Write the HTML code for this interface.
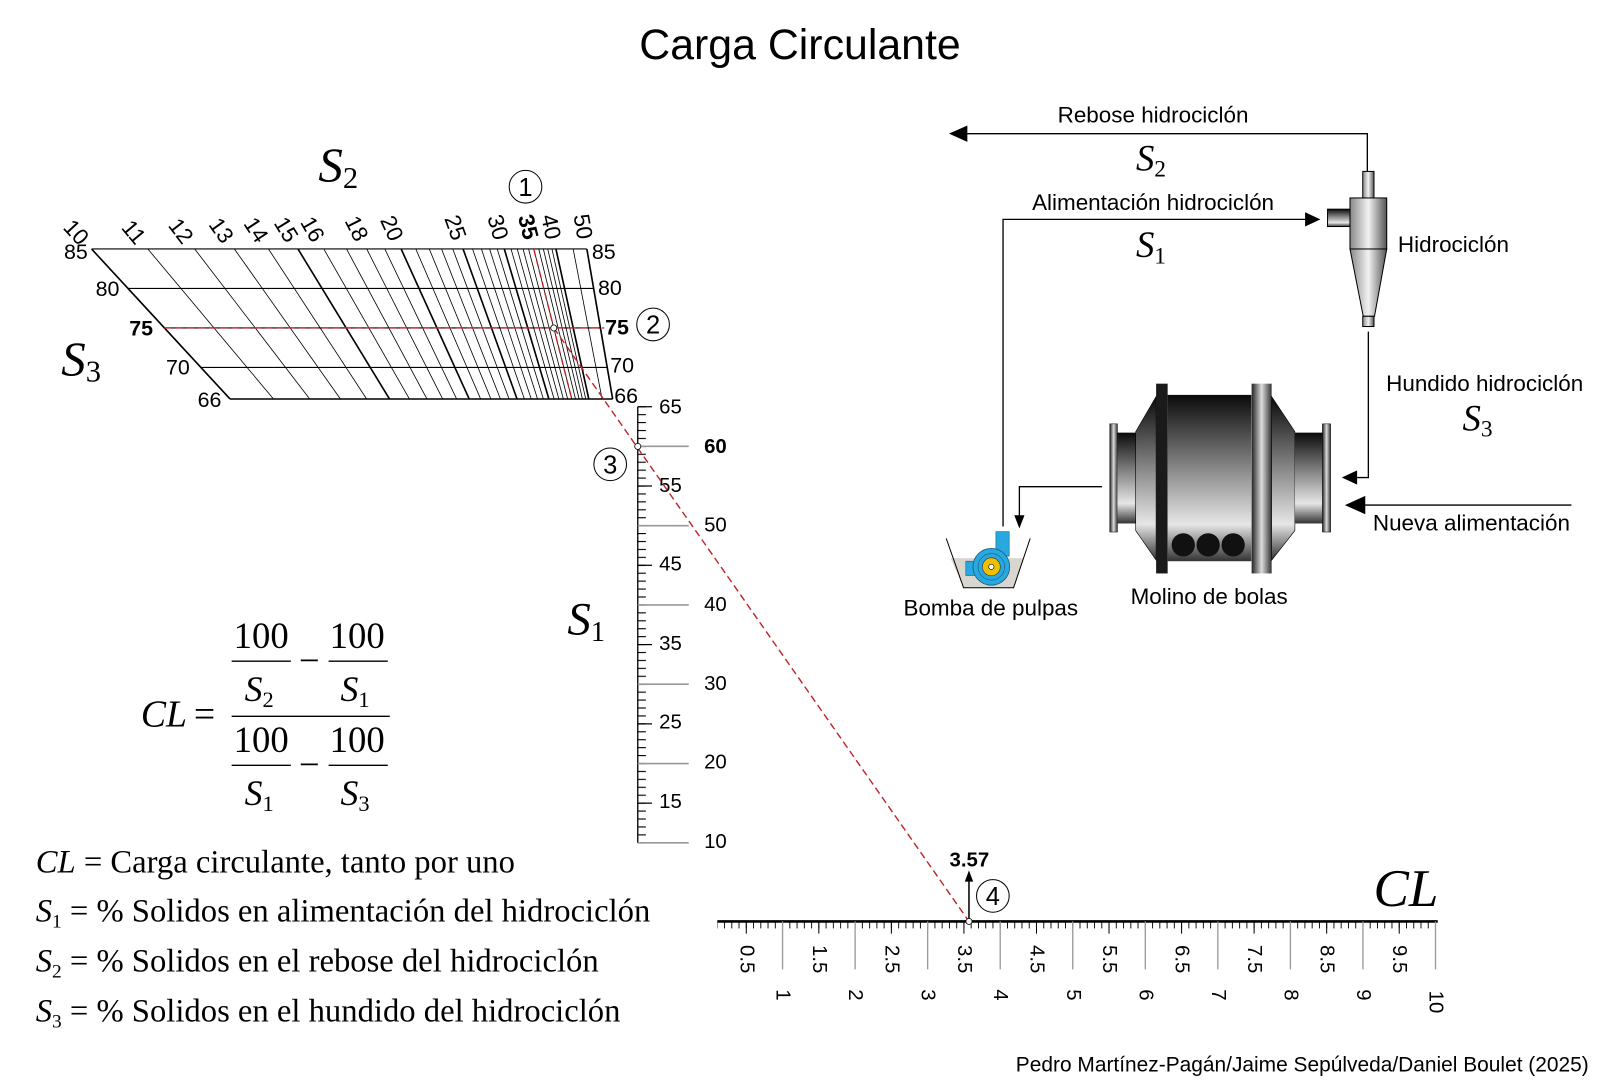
<!DOCTYPE html>
<html><head><meta charset="utf-8">
<style>
html,body{margin:0;padding:0;background:#fff;}
svg{display:block;}
.sans{font-family:"Liberation Sans",sans-serif;}
.ser{font-family:"Liberation Serif",serif;}
.it{font-family:"Liberation Serif",serif;font-style:italic;}
</style></head>
<body>
<svg width="1600" height="1081" viewBox="0 0 1568 1059.4" xmlns="http://www.w3.org/2000/svg">
<defs>
<linearGradient id="gv" x1="0" y1="0" x2="0" y2="1">
<stop offset="0" stop-color="#0a0a0a"/><stop offset="0.45" stop-color="#8a8a8a"/><stop offset="0.78" stop-color="#e6e6e6"/><stop offset="1" stop-color="#333"/></linearGradient>
<linearGradient id="gh" x1="0" y1="0" x2="1" y2="0">
<stop offset="0" stop-color="#222"/><stop offset="0.5" stop-color="#ddd"/><stop offset="1" stop-color="#333"/></linearGradient>
<linearGradient id="gh2" x1="0" y1="0" x2="1" y2="0">
<stop offset="0" stop-color="#888"/><stop offset="0.5" stop-color="#f2f2f2"/><stop offset="1" stop-color="#555"/></linearGradient>
<pattern id="p1" x="625" y="398.05" width="10" height="7.77" patternUnits="userSpaceOnUse"><rect x="0" y="0" width="8" height="1.1" fill="#000"/></pattern>
<pattern id="p2" x="695.35" y="903" width="7.11" height="10" patternUnits="userSpaceOnUse"><rect x="0" y="0" width="0.9" height="7" fill="#000"/></pattern>
</defs>

<text x="784" y="58" class="sans" font-size="42" text-anchor="middle">Carga Circulante</text>

<!-- grid -->
<g stroke="#000" fill="none" stroke-width="0.8">
<line x1="144.9" y1="244" x2="268.0" y2="391"/>
<line x1="190.8" y1="244" x2="303.5" y2="391"/>
<line x1="229.7" y1="244" x2="333.6" y2="391"/>
<line x1="263.1" y1="244" x2="359.3" y2="391"/>
<line x1="317.3" y1="244" x2="401.2" y2="391"/>
<line x1="339.6" y1="244" x2="418.4" y2="391"/>
<line x1="359.4" y1="244" x2="433.8" y2="391"/>
<line x1="377.1" y1="244" x2="447.5" y2="391"/>
<line x1="407.5" y1="244" x2="471.0" y2="391"/>
<line x1="420.7" y1="244" x2="481.1" y2="391"/>
<line x1="432.7" y1="244" x2="490.4" y2="391"/>
<line x1="443.7" y1="244" x2="498.9" y2="391"/>
<line x1="463.1" y1="244" x2="513.9" y2="391"/>
<line x1="471.8" y1="244" x2="520.6" y2="391"/>
<line x1="479.8" y1="244" x2="526.8" y2="391"/>
<line x1="487.3" y1="244" x2="532.5" y2="391"/>
<line x1="500.8" y1="244" x2="543.0" y2="391"/>
<line x1="506.9" y1="244" x2="547.7" y2="391"/>
<line x1="512.6" y1="244" x2="552.1" y2="391"/>
<line x1="518.0" y1="244" x2="556.3" y2="391"/>
<line x1="523.1" y1="244" x2="560.3" y2="391"/>
<line x1="528.0" y1="244" x2="564.0" y2="391"/>
<line x1="532.5" y1="244" x2="567.5" y2="391"/>
<line x1="536.8" y1="244" x2="570.8" y2="391"/>
<line x1="540.9" y1="244" x2="574.0" y2="391"/>
<line x1="561.7" y1="244" x2="590.0" y2="391"/>
</g>
<g stroke="#000" fill="none" stroke-width="1.6">
<line x1="89.7" y1="244" x2="225.4" y2="391"/>
<line x1="292.0" y1="244" x2="381.7" y2="391"/>
<line x1="393.1" y1="244" x2="459.8" y2="391"/>
<line x1="453.8" y1="244" x2="506.7" y2="391"/>
<line x1="494.2" y1="244" x2="537.9" y2="391"/>
<line x1="544.8" y1="244" x2="577.0" y2="391"/>
<line x1="575.1" y1="244" x2="600.4" y2="391"/>
</g>
<g stroke="#000" stroke-width="1.1">
<line x1="89.7" y1="244" x2="575.1" y2="244"/>
<line x1="125.4" y1="282.7" x2="581.8" y2="282.7"/>
<line x1="161.1" y1="321.4" x2="588.4" y2="321.4"/>
<line x1="196.8" y1="360.1" x2="595.1" y2="360.1"/>
<line x1="225.4" y1="391" x2="600.4" y2="391" stroke-width="1.5"/>
</g>
<g class="sans" font-size="22" text-anchor="end" dominant-baseline="central">
<text transform="translate(82.9,236.6) rotate(47.3)">10</text>
<text transform="translate(138.4,236.3) rotate(50.1)">11</text>
<text transform="translate(184.7,236.1) rotate(52.5)">12</text>
<text transform="translate(223.9,235.8) rotate(54.7)">13</text>
<text transform="translate(257.6,235.6) rotate(56.8)">14</text>
<text transform="translate(286.8,235.5) rotate(58.6)">15</text>
<text transform="translate(312.3,235.3) rotate(60.3)">16</text>
<text transform="translate(354.9,234.9) rotate(63.2)">18</text>
<text transform="translate(389.0,234.9) rotate(65.6)">20</text>
<text transform="translate(450.4,234.6) rotate(70.2)">25</text>
<text transform="translate(491.4,234.4) rotate(73.4)">30</text>
<text transform="translate(520.6,234.3) rotate(75.8)" font-weight="bold">35</text>
<text transform="translate(542.6,234.2) rotate(77.6)">40</text>
<text transform="translate(573.4,234.1) rotate(80.2)">50</text>
</g>
<g class="sans" font-size="21">
<text x="86" y="254" text-anchor="end">85</text>
<text x="117" y="290" text-anchor="end">80</text>
<text x="150" y="329" text-anchor="end" font-weight="bold">75</text>
<text x="186" y="367" text-anchor="end">70</text>
<text x="217" y="399" text-anchor="end">66</text>
<text x="580" y="254">85</text>
<text x="586" y="289">80</text>
<text x="593" y="328" font-weight="bold">75</text>
<text x="598" y="365">70</text>
<text x="602" y="395">66</text>
</g>
<text x="312" y="178" class="it" font-size="48">S<tspan font-size="30" font-style="normal" dy="6">2</tspan></text>
<text x="60" y="368" class="it" font-size="48">S<tspan font-size="30" font-style="normal" dy="6">3</tspan></text>

<!-- S1 scale -->
<line x1="625" y1="398.6" x2="625" y2="826" stroke="#000" stroke-width="1.3"/>
<rect x="625" y="398" width="8" height="429" fill="url(#p1)"/>
<g stroke="#000" stroke-width="1.2">
<line x1="625" y1="398.6" x2="639" y2="398.6"/>
<line x1="625" y1="476.3" x2="639" y2="476.3"/>
<line x1="625" y1="554.0" x2="639" y2="554.0"/>
<line x1="625" y1="631.7" x2="639" y2="631.7"/>
<line x1="625" y1="709.4" x2="639" y2="709.4"/>
<line x1="625" y1="787.1" x2="639" y2="787.1"/>
</g>
<g stroke="#999" stroke-width="1.6">
<line x1="625" y1="437.45" x2="675" y2="437.45"/>
<line x1="625" y1="515.15" x2="675" y2="515.15"/>
<line x1="625" y1="592.85" x2="675" y2="592.85"/>
<line x1="625" y1="670.55" x2="675" y2="670.55"/>
<line x1="625" y1="748.25" x2="675" y2="748.25"/>
<line x1="625" y1="825.95" x2="675" y2="825.95"/>
</g>
<g class="sans" font-size="20">
<text x="646" y="405">65</text>
<text x="690" y="444" font-weight="bold">60</text>
<text x="646" y="482">55</text>
<text x="690" y="521">50</text>
<text x="646" y="559">45</text>
<text x="690" y="599">40</text>
<text x="646" y="637">35</text>
<text x="690" y="676">30</text>
<text x="646" y="714">25</text>
<text x="690" y="753">20</text>
<text x="646" y="792">15</text>
<text x="690" y="831">10</text>
</g>
<text x="556" y="622" class="it" font-size="46">S<tspan font-size="28" font-style="normal" dy="6">1</tspan></text>

<!-- CL scale -->
<rect x="703" y="903" width="706" height="7" fill="url(#p2)"/>
<line x1="703" y1="903" x2="1409" y2="903" stroke="#000" stroke-width="2.6"/>
<g stroke="#000" stroke-width="1">
<line x1="731.35" y1="903" x2="731.35" y2="915"/><line x1="802.45" y1="903" x2="802.45" y2="915"/>
<line x1="873.55" y1="903" x2="873.55" y2="915"/><line x1="944.65" y1="903" x2="944.65" y2="915"/>
<line x1="1015.75" y1="903" x2="1015.75" y2="915"/><line x1="1086.85" y1="903" x2="1086.85" y2="915"/>
<line x1="1157.95" y1="903" x2="1157.95" y2="915"/><line x1="1229.05" y1="903" x2="1229.05" y2="915"/>
<line x1="1300.15" y1="903" x2="1300.15" y2="915"/><line x1="1371.25" y1="903" x2="1371.25" y2="915"/>
</g>
<g stroke="#999" stroke-width="1.3">
<line x1="766.9" y1="903" x2="766.9" y2="950"/><line x1="838.0" y1="903" x2="838.0" y2="950"/>
<line x1="909.1" y1="903" x2="909.1" y2="950"/><line x1="980.2" y1="903" x2="980.2" y2="950"/>
<line x1="1051.3" y1="903" x2="1051.3" y2="950"/><line x1="1122.4" y1="903" x2="1122.4" y2="950"/>
<line x1="1193.5" y1="903" x2="1193.5" y2="950"/><line x1="1264.6" y1="903" x2="1264.6" y2="950"/>
<line x1="1335.7" y1="903" x2="1335.7" y2="950"/><line x1="1406.8" y1="903" x2="1406.8" y2="950"/>
</g>
<g class="sans" font-size="20" text-anchor="middle" dominant-baseline="central">
<text transform="translate(731.35,940) rotate(90)">0.5</text>
<text transform="translate(802.45,940) rotate(90)">1.5</text>
<text transform="translate(873.55,940) rotate(90)">2.5</text>
<text transform="translate(944.65,940) rotate(90)">3.5</text>
<text transform="translate(1015.75,940) rotate(90)">4.5</text>
<text transform="translate(1086.85,940) rotate(90)">5.5</text>
<text transform="translate(1157.95,940) rotate(90)">6.5</text>
<text transform="translate(1229.05,940) rotate(90)">7.5</text>
<text transform="translate(1300.15,940) rotate(90)">8.5</text>
<text transform="translate(1371.25,940) rotate(90)">9.5</text>
<text transform="translate(766.9,975) rotate(90)">1</text>
<text transform="translate(838.0,975) rotate(90)">2</text>
<text transform="translate(909.1,975) rotate(90)">3</text>
<text transform="translate(980.2,975) rotate(90)">4</text>
<text transform="translate(1051.3,975) rotate(90)">5</text>
<text transform="translate(1122.4,975) rotate(90)">6</text>
<text transform="translate(1193.5,975) rotate(90)">7</text>
<text transform="translate(1264.6,975) rotate(90)">8</text>
<text transform="translate(1335.7,975) rotate(90)">9</text>
<text transform="translate(1406.8,982) rotate(90)">10</text>
</g>
<text x="1346" y="888" class="it" font-size="52">CL</text>
<text x="950" y="849" class="sans" font-size="20" font-weight="bold" text-anchor="middle">3.57</text>
<line x1="949.6" y1="903" x2="949.6" y2="862" stroke="#000" stroke-width="1.5"/>
<polygon points="945.5,864 953.7,864 949.6,853" fill="#000"/>

<!-- red lines -->
<g stroke="#c0262a" stroke-width="1.4" stroke-dasharray="7,4" fill="none">
<line x1="161" y1="321.4" x2="592" y2="321.4"/>
<line x1="523.1" y1="244" x2="560.3" y2="391"/>
<line x1="542.7" y1="321.4" x2="949.6" y2="903"/>
</g>
<g fill="#fff" stroke="#000" stroke-width="0.8">
<circle cx="542.7" cy="321.4" r="3"/><circle cx="625" cy="437.5" r="3"/><circle cx="949.6" cy="903" r="3"/>
</g>

<!-- numbered circles -->
<g fill="none" stroke="#000" stroke-width="1">
<circle cx="515" cy="183" r="16"/><circle cx="640" cy="318" r="16"/><circle cx="598" cy="455" r="16"/><circle cx="973" cy="878" r="16"/>
</g>
<g class="sans" font-size="25" text-anchor="middle">
<text x="515" y="192">1</text><text x="640" y="327">2</text><text x="598" y="464">3</text><text x="973" y="887">4</text>
</g>

<!-- formula -->
<g class="ser" font-size="36" text-anchor="middle">
<text x="256" y="635">100</text><text x="350" y="635">100</text>
<text x="256" y="737">100</text><text x="350" y="737">100</text>
<text x="303" y="659">−</text><text x="303" y="761">−</text>
</g>
<g stroke="#000" stroke-width="1.3">
<line x1="227" y1="648" x2="285" y2="648"/><line x1="322" y1="648" x2="380" y2="648"/>
<line x1="227" y1="702" x2="382" y2="702"/>
<line x1="227" y1="750" x2="285" y2="750"/><line x1="322" y1="750" x2="380" y2="750"/>
</g>
<g class="it" font-size="35" text-anchor="middle">
<text x="254" y="687">S<tspan font-size="22" font-style="normal" dy="6">2</tspan></text>
<text x="348" y="687">S<tspan font-size="22" font-style="normal" dy="6">1</tspan></text>
<text x="254" y="789">S<tspan font-size="22" font-style="normal" dy="6">1</tspan></text>
<text x="348" y="789">S<tspan font-size="22" font-style="normal" dy="6">3</tspan></text>
</g>
<text x="138" y="712" class="it" font-size="37">CL</text>
<text x="190" y="712" class="ser" font-size="37">=</text>

<g class="ser" font-size="32">
<text x="35" y="855"><tspan font-style="italic">CL</tspan> = Carga circulante, tanto por uno</text>
<text x="35" y="903"><tspan font-style="italic">S</tspan><tspan font-size="19" dy="6">1</tspan><tspan dy="-6"> =  % Solidos en alimentación del hidrociclón</tspan></text>
<text x="35" y="952"><tspan font-style="italic">S</tspan><tspan font-size="19" dy="6">2</tspan><tspan dy="-6"> =  % Solidos en el rebose del hidrociclón</tspan></text>
<text x="35" y="1001"><tspan font-style="italic">S</tspan><tspan font-size="19" dy="6">3</tspan><tspan dy="-6"> =  % Solidos en el hundido del hidrociclón</tspan></text>
</g>
<text x="1557" y="1050" class="sans" font-size="20.5" text-anchor="end">Pedro Martínez-Pagán/Jaime Sepúlveda/Daniel Boulet (2025)</text>

<!-- flow diagram -->
<g stroke="#000" stroke-width="1.3" fill="none">
<polyline points="1340,168 1340,131 945,131"/>
<polyline points="983,516 983,215 1282,215"/>
<polyline points="1341,325 1341,468 1330,468"/>
<line x1="1540" y1="495" x2="1336" y2="495"/>
<polyline points="1080,477 999,477 999,506"/>
</g>
<g fill="#000">
<polygon points="930,131 948,123 948,139"/>
<polygon points="1294,215 1279,208 1279,222"/>
<polygon points="1315,468 1330,461 1330,475"/>
<polygon points="1318,495 1338,486 1338,504"/>
<polygon points="999,518 994,505 1004,505"/>
</g>
<g class="sans" font-size="22" text-anchor="middle">
<text x="1130" y="120">Rebose hidrociclón</text>
<text x="1130" y="206">Alimentación hidrociclón</text>
<text x="1455" y="383">Hundido hidrociclón</text>
<text x="1442" y="520">Nueva alimentación</text>
<text x="971" y="603">Bomba de pulpas</text>
<text x="1185" y="592">Molino de bolas</text>
<text x="1370" y="247" text-anchor="start">Hidrociclón</text>
</g>
<g class="it" font-size="36" text-anchor="middle">
<text x="1128" y="167">S<tspan font-size="23" font-style="normal" dy="6">2</tspan></text>
<text x="1128" y="252">S<tspan font-size="23" font-style="normal" dy="6">1</tspan></text>
<text x="1448" y="422">S<tspan font-size="23" font-style="normal" dy="6">3</tspan></text>
</g>

<!-- hydrocyclone -->
<g stroke="#000" stroke-width="1">
<rect x="1335.5" y="168" width="11" height="27" fill="url(#gh2)"/>
<rect x="1301" y="205" width="22" height="17" fill="url(#gv)"/>
<rect x="1323" y="194" width="36" height="50" fill="url(#gh2)"/>
<polygon points="1323,244 1359,244 1347,310 1336,310" fill="url(#gh2)"/>
<rect x="1335.5" y="310" width="11" height="10" fill="url(#gh2)"/>
</g>

<!-- mill -->
<g>
<rect x="1087.6" y="415.4" width="7.5" height="106" fill="url(#gh)" stroke="#000" stroke-width="0.5"/>
<rect x="1095" y="424" width="18" height="89" fill="url(#gv)"/>
<polygon points="1113,423 1133,388.6 1133,549 1113,520" fill="url(#gv)" stroke="#000" stroke-width="0.6"/>
<rect x="1133" y="376" width="11.3" height="186" fill="#1a1a1a"/>
<rect x="1144.3" y="387" width="82" height="163" fill="url(#gv)"/>
<rect x="1226.6" y="376" width="19.6" height="186" fill="url(#gh)"/>
<polygon points="1246.2,388.6 1269,423 1269,520 1246.2,549" fill="url(#gv)" stroke="#000" stroke-width="0.6"/>
<rect x="1269" y="424" width="27" height="89" fill="url(#gv)"/>
<rect x="1296" y="415.4" width="8" height="106" fill="url(#gh)" stroke="#000" stroke-width="0.5"/>
<circle cx="1159.6" cy="534" r="11.4" fill="#111"/>
<circle cx="1184" cy="534" r="11.4" fill="#111"/>
<circle cx="1208.5" cy="534" r="11.4" fill="#111"/>
</g>

<!-- pump -->
<g>
<polygon points="931.5,547 1003,547 993.3,576 944.3,576" fill="#d9d6cf"/>
<polyline points="927.3,527.6 944.3,576 993.3,576 1009.6,527.6" fill="none" stroke="#000" stroke-width="1"/>
<rect x="976" y="521" width="13" height="24" fill="#29a8e0" stroke="#1a5f80" stroke-width="0.6"/>
<rect x="946.5" y="550" width="9" height="14" fill="#29a8e0" stroke="#1a5f80" stroke-width="0.6"/>
<circle cx="971.5" cy="555.5" r="18" fill="#29a8e0" stroke="#1a5f80" stroke-width="0.8"/>
<circle cx="971.5" cy="555.5" r="13" fill="none" stroke="#1a5f80" stroke-width="0.6"/>
<circle cx="971.5" cy="555.5" r="8.8" fill="#f0c000" stroke="#333" stroke-width="0.6"/>
<circle cx="971.5" cy="555.5" r="2.6" fill="#fff" stroke="#000" stroke-width="0.6"/>
</g>
</svg>
</body></html>
